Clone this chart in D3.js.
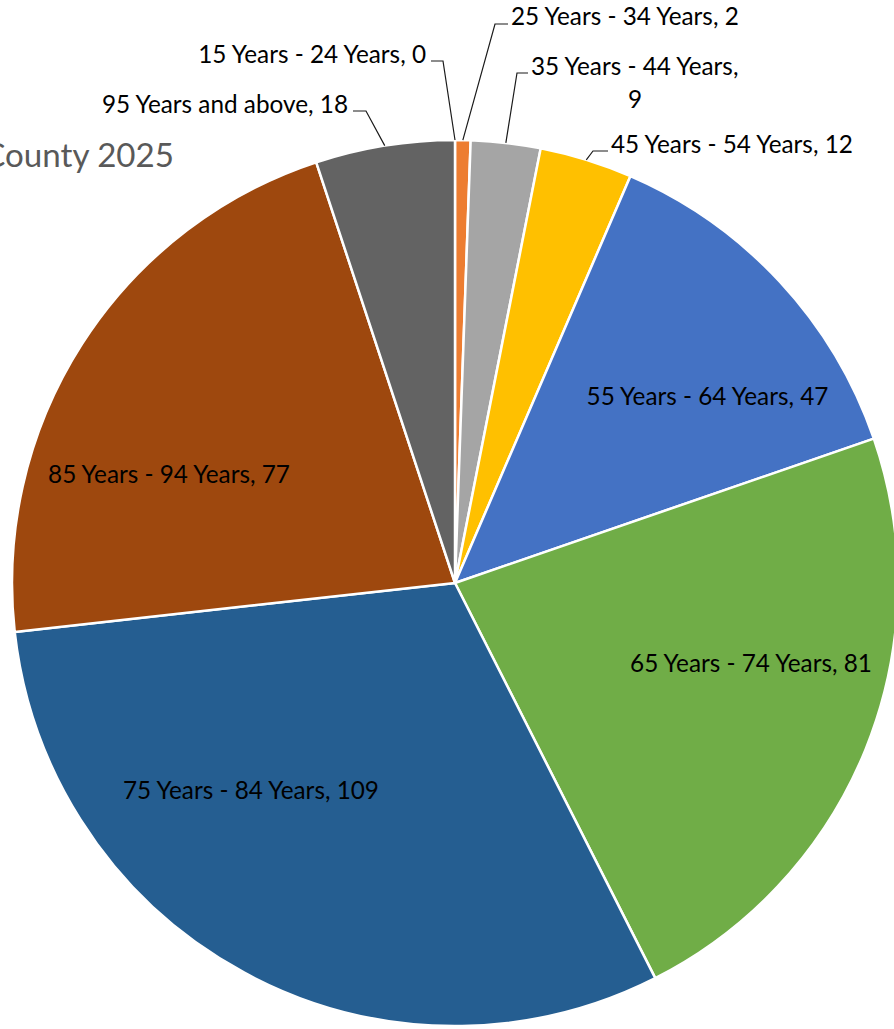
<!DOCTYPE html>
<html>
<head>
<meta charset="utf-8">
<script src="https://cdn.jsdelivr.net/npm/d3@7"></script>
<style>
  html, body { margin: 0; padding: 0; background: #fff; overflow: hidden; }
  svg { display: block; }
</style>
</head>
<body>
<svg id="chart" width="894" height="1029"></svg>
<script>
// ---- data ----
const categories = [
  "15 Years - 24 Years", "25 Years - 34 Years", "35 Years - 44 Years",
  "45 Years - 54 Years", "55 Years - 64 Years", "65 Years - 74 Years",
  "75 Years - 84 Years", "85 Years - 94 Years", "95 Years and above"
];
const values = [0, 2, 9, 12, 47, 81, 109, 77, 18];
const colors = ["#5B9BD5", "#ED7D31", "#A5A5A5", "#FFC000", "#4472C4",
                "#70AD47", "#255E91", "#9E480E", "#636363"];
const titleText = "County 2025";

// ---- layout ----
const W = 894, H = 1029;
const cx = 455, cy = 583, R = 443;
const font = "Lato, 'Noto Sans', sans-serif";

const svg = d3.select("#chart");

// fit label font size to reference width
const probe = svg.append("text").attr("font-family", font).attr("font-size", 100)
  .text("55 Years - 64 Years, 47");
const labelSize = 100 * 242 / probe.node().getComputedTextLength();
probe.text("ounty 2025");
const titleSize = 100 * 169 / probe.node().getComputedTextLength();
probe.remove();

// title (partially cut off at left)
svg.append("text")
  .attr("x", 174).attr("y", 167)
  .attr("text-anchor", "end")
  .attr("font-family", font)
  .attr("font-size", titleSize)
  .attr("fill", "#595959")
  .text(titleText);

const data = categories.map((c, i) => ({ cat: c, value: values[i], color: colors[i] }));
const pie = d3.pie().sort(null).value(d => d.value);
const arcs = pie(data);
const arc = d3.arc().innerRadius(0).outerRadius(R);

const g = svg.append("g").attr("transform", `translate(${cx},${cy})`);
g.selectAll("path.slice")
  .data(arcs.filter(a => a.data.value > 0))
  .join("path")
  .attr("class", "slice")
  .attr("d", arc)
  .attr("fill", d => d.data.color)
  .attr("stroke", "#fff")
  .attr("stroke-width", 2.5)
  .attr("stroke-linejoin", "round");

// inside labels (label box centres, chart pixel coordinates)
const insideLayout = {
  "55 Years - 64 Years": { x: 707.5, y: 405 },
  "65 Years - 74 Years": { x: 751, y: 671.5 },
  "75 Years - 84 Years": { x: 251, y: 799 },
  "85 Years - 94 Years": { x: 169, y: 483 }
};
// outside labels: elbow, leader end, text anchor
const outsideLayout = {
  "15 Years - 24 Years": { elbow: [443, 61], end: [431, 61], tx: 426, ty: 63, anchor: "end" },
  "25 Years - 34 Years": { elbow: [495, 24], end: [508, 24], tx: 511, ty: 25, anchor: "start" },
  "35 Years - 44 Years": { elbow: [517, 73], end: [528, 73], tx: 531, ty: 75, anchor: "start", wrap: { x: 635, y: 108 } },
  "45 Years - 54 Years": { elbow: [593, 151], end: [608, 151], tx: 611, ty: 153, anchor: "start" },
  "95 Years and above": { elbow: [366, 111], end: [353, 111], tx: 348, ty: 113, anchor: "end" }
};

const labels = svg.append("g")
  .attr("font-family", font)
  .attr("font-size", labelSize)
  .attr("fill", "#000");

arcs.forEach(a => {
  const c = a.data.cat;
  if (insideLayout[c]) {
    const p = insideLayout[c];
    labels.append("text")
      .attr("x", p.x).attr("y", p.y)
      .attr("text-anchor", "middle")
      .text(`${c}, ${a.data.value}`);
  } else if (outsideLayout[c]) {
    const p = outsideLayout[c];
    const mid = (a.startAngle + a.endAngle) / 2;
    const ax = cx + R * Math.sin(mid), ay = cy - R * Math.cos(mid);
    svg.append("polyline")
      .attr("points", [[ax, ay], p.elbow, p.end].map(q => q.join(",")).join(" "))
      .attr("fill", "none")
      .attr("stroke", "#1a1a1a")
      .attr("stroke-width", 1.2);
    if (p.wrap) {
      labels.append("text").attr("x", p.tx).attr("y", p.ty)
        .attr("text-anchor", p.anchor).text(`${c},`);
      labels.append("text").attr("x", p.wrap.x).attr("y", p.wrap.y)
        .attr("text-anchor", "middle").text(`${a.data.value}`);
    } else {
      labels.append("text").attr("x", p.tx).attr("y", p.ty)
        .attr("text-anchor", p.anchor).text(`${c}, ${a.data.value}`);
    }
  }
});
</script>
</body>
</html>
